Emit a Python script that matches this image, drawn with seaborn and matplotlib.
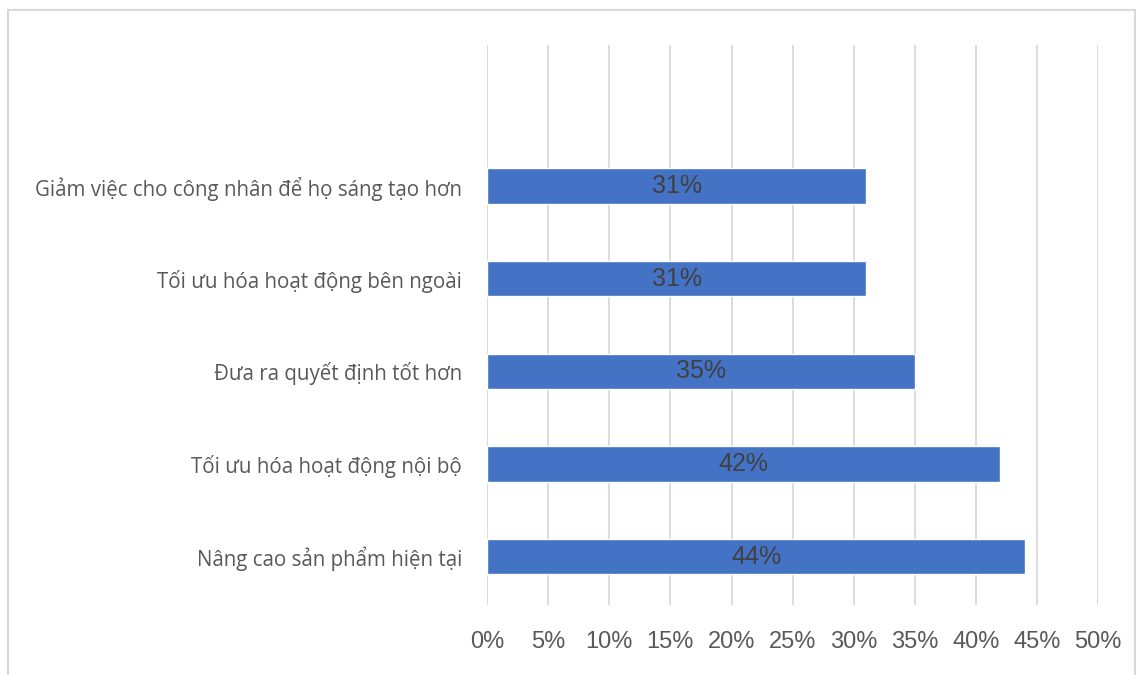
import matplotlib
matplotlib.use("Agg")
import matplotlib.pyplot as plt
import pandas as pd
import seaborn as sns
from matplotlib.patches import Rectangle

categories = [
    "Giảm việc cho công nhân để họ sáng tạo hơn",
    "Tối ưu hóa hoạt động bên ngoài",
    "Đưa ra quyết định tốt hơn",
    "Tối ưu hóa hoạt động nội bộ",
    "Nâng cao sản phẩm hiện tại",
]
values = [31, 31, 35, 42, 44]
x_ticks = [0, 5, 10, 15, 20, 25, 30, 35, 40, 45, 50]

BAR_COLOR = "#4472C4"
GRID_COLOR = "#d9d9d9"
TEXT_COLOR = "#595959"

df = pd.DataFrame({"cat": categories, "val": values})

sns.set_theme(style="white")
plt.rcParams["font.family"] = ["Liberation Sans", "DejaVu Sans"]

fig = plt.figure(figsize=(11.38, 6.75), dpi=100)
ax = fig.add_axes([0.428, 0.104, 0.537, 0.829])

sns.barplot(data=df, x="val", y="cat", orient="h", color=BAR_COLOR,
            saturation=1, width=0.38, ax=ax, zorder=3)

ax.set_xlim(0, 50)
ax.set_ylim(4.52, -1.52)
ax.set_xticks(x_ticks)
ax.set_xticklabels([f"{t}%" for t in x_ticks], fontsize=17, color=TEXT_COLOR)
ax.set_yticks(range(len(categories)))
ax.set_yticklabels(categories, fontsize=14.8, color=TEXT_COLOR, family=["Open Sans", "DejaVu Sans"])
ax.tick_params(axis="x", length=0, pad=19)
ax.tick_params(axis="y", length=0, pad=18)
ax.set_xlabel("")
ax.set_ylabel("")
ax.xaxis.grid(True, color=GRID_COLOR, linewidth=1.3, zorder=0)
ax.set_axisbelow(True)
for s in ax.spines.values():
    s.set_visible(False)

# rótulos dentro das barras
for i, v in enumerate(values):
    ax.text(v / 2, i, f"{v}%", ha="center", va="center", fontsize=18, color="#404040", zorder=4)

# moldura externa clara
fig.patches.append(Rectangle((0.007, -0.01), 0.99, 0.995, transform=fig.transFigure,
                             fill=False, edgecolor="#d9d9d9", linewidth=1.5))

fig.savefig("out.png", dpi=100)
